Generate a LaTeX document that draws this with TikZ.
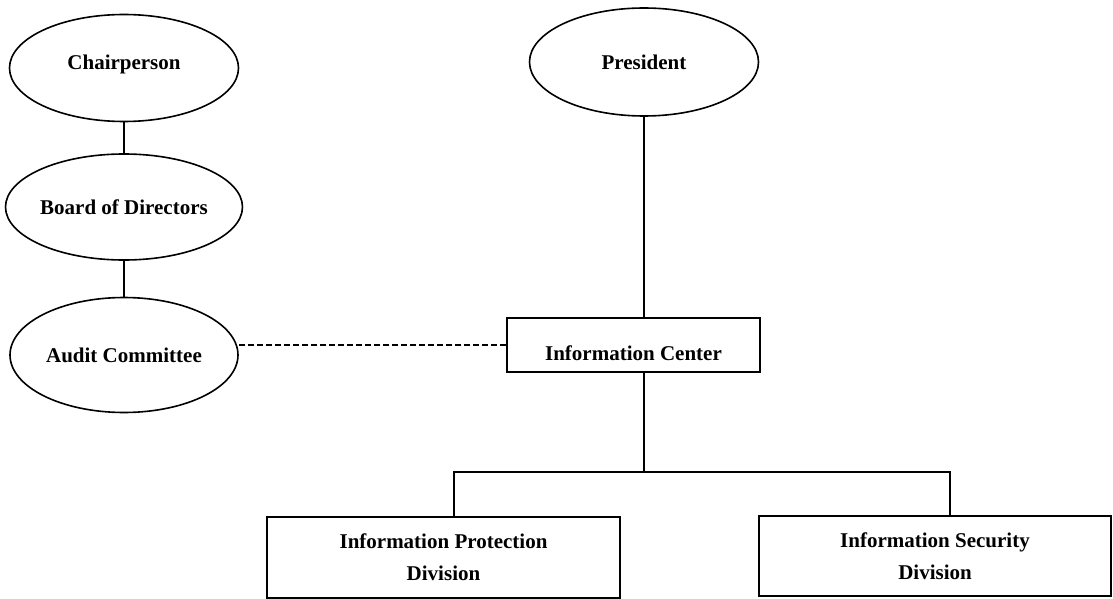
\documentclass[tikz,border=0pt]{standalone}
\usepackage{fontspec}
\setmainfont{Liberation Serif}
\usepackage{tikz}
\usetikzlibrary{shapes.geometric}

\tikzset{
  orgtext/.style={font=\fontsize{21}{32}\selectfont\bfseries, align=center, inner sep=0pt},
  oval/.style={orgtext, draw=black, line width=1.6pt, ellipse},
  unit/.style={orgtext, draw=black, line width=1.6pt, rectangle},
  link/.style={draw=black, line width=1.6pt}
}

\begin{document}
\begin{tikzpicture}[x=1pt,y=-1pt]
\useasboundingbox (0,0) rectangle (1113,599);
% board side:
\node[oval, minimum width=229, minimum height=107, text height=10pt, text depth=6pt] (chair) at (124,68) {Chairperson};
\node[oval, minimum width=230, minimum height=106] (board) at (124,207) {Board of Directors};
\node[oval, minimum width=228, minimum height=115] (audit) at (124,355) {Audit Committee};
% management side:
\node[oval, minimum width=229, minimum height=108] (pres) at (644,62) {President};
\node[unit, minimum width=253, minimum height=54, text height=30pt, text depth=0pt] (infocenter) at (633.5,345) {Information Center};
\node[unit, minimum width=353, minimum height=81] (protect) at (443.5,557.5) {Information Protection\\Division};
\node[unit, minimum width=352, minimum height=80] (security) at (935,556) {Information Security\\Division};
% branch points:
\coordinate (split) at (644,472);
\coordinate (tapl) at (454,472);
\coordinate (tapr) at (950,472);
% links:
\path[link] (chair.south) -- (board.north);
\path[link] (board.south) -- (audit.north);
\path[link, dash pattern=on 6pt off 3pt] (infocenter.west) -- (infocenter.west -| audit.east);
\path[link] (pres.south) -- (pres.south |- infocenter.north);
\path[link] (split |- infocenter.south) -- (split);
\path[link] (tapl |- protect.north) -- (tapl) -- (tapr) -- (tapr |- security.north);
\end{tikzpicture}
\end{document}
